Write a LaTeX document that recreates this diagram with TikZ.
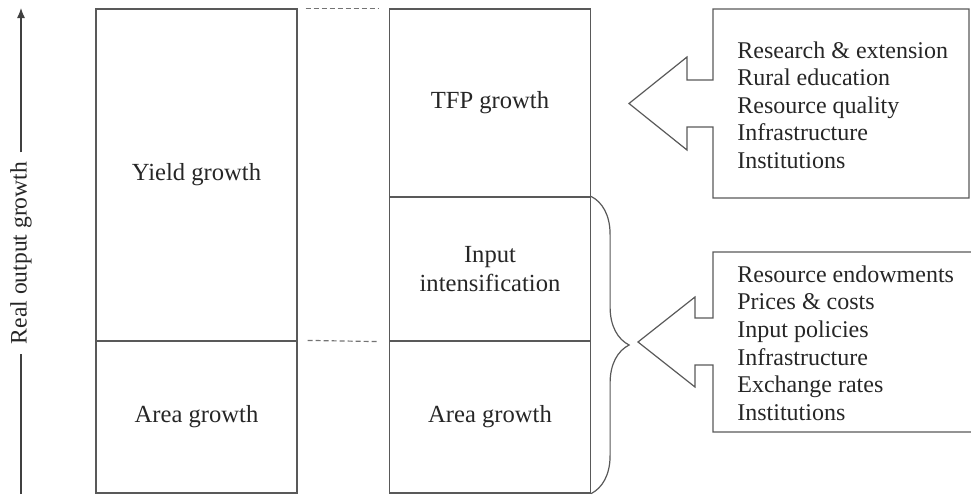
\documentclass[tikz,border=0pt]{standalone}
\usepackage{fontspec}
\setmainfont{Liberation Serif}
\usetikzlibrary{arrows.meta,decorations.pathreplacing}

\tikzset{
  cell/.style={draw=black!65, line width=0.6pt, minimum width=100.5pt, inner sep=0pt,
    align=center, text=black!85, font=\fontsize{12.3}{14.5}\selectfont},
  drivers/.style={anchor=west, align=left, inner sep=0pt, text=black!85,
    font=\fontsize{12}{13.8}\selectfont},
  outline/.style={draw=black!65, line width=0.6pt, line join=miter},
  guide/.style={draw=black!55, line width=0.6pt, dash pattern=on 2.5pt off 1.5pt}
}

\begin{document}
\begin{tikzpicture}[x=0.5pt,y=-0.5pt]
  \useasboundingbox (0,0) rectangle (971,494);
  % columns
  \node[cell, minimum height=166pt] (yield) at (196.5,175) {Yield growth};
  \node[cell, minimum height=76pt] (area) at (196.5,417) {Area growth};
  \node[cell, minimum height=94pt] (tfp) at (490,103) {TFP growth};
  \node[cell, minimum height=72pt] (input) at (490,269) {Input\\intensification};
  \node[cell, minimum height=76pt] (areatwo) at (490,417) {Area growth};

  \draw[guide] ([xshift=4pt]yield.north east) -- ([xshift=-5pt]tfp.north west);
  \draw[guide] ([xshift=5pt]area.north east) -- ([xshift=-5pt]input.south west);

  % output axis
  \node[rotate=90, inner sep=4.5pt, text=black!85, font=\fontsize{11.8}{14}\selectfont]
    (lbl) at (21,253) {Real output growth};
  \coordinate (axbot) at (21,494);
  \coordinate (axtop) at (21,8);
  \draw[black!75, line width=0.6pt] (axbot) -- (lbl.west);
  \draw[black!75, line width=0.6pt, -{Latex[length=5pt,width=4pt]}] (lbl.east) -- (axtop);

  % brace
  \draw[outline, decorate, decoration={brace, amplitude=19pt}]
    (input.north east) -- (areatwo.south east);

  % driver boxes
  \draw[outline] (713,80) -- (687,80) -- (687,57) -- (629,103.5) -- (687,150)
    -- (687,127) -- (713,127) -- (713,198) -- (969,198) -- (969,9) -- (713,9) -- cycle;
  \draw[outline] (971,252) -- (713,252) -- (713,318) -- (695,318) -- (695,297)
    -- (638,342) -- (695,387) -- (695,365) -- (713,365) -- (713,432) -- (971,432);

  \node[drivers] (tfpdrv) at (737,105) {Research \& extension\\Rural education\\Resource quality\\Infrastructure\\Institutions};
  \node[drivers] (inpdrv) at (737,343) {Resource endowments\\Prices \& costs\\Input policies\\Infrastructure\\Exchange rates\\Institutions};
\end{tikzpicture}
\end{document}
